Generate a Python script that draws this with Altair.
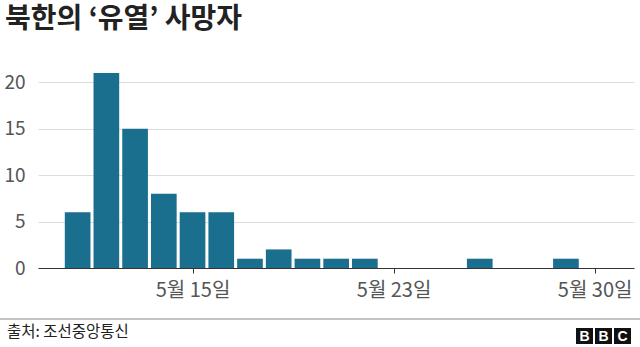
import altair as alt
import pandas as pd

# ---- data ----
days = [12, 13, 14, 15, 16, 17, 18, 19, 20, 21, 22, 26, 29]
deaths = [6, 21, 15, 8, 6, 6, 1, 2, 1, 1, 1, 1, 1]
tick_days = [16, 23, 30]
tick_labels = ["5월 15일", "5월 23일", "5월 30일"]
y_ticks = [0, 5, 10, 15, 20]

title_text = "북한의 ‘유열’ 사망자"
source_text = "출처: 조선중앙통신"

FONT = "Noto Sans CJK KR"
BAR = "#1a6e8e"

df = pd.DataFrame({"day": days, "deaths": deaths})

label_map = "{" + ",".join(f"'{d}':'{l}'" for d, l in zip(tick_days, tick_labels)) + "}"

W, H = 596, 195

bars = (
    alt.Chart(df)
    .transform_calculate(x0="datum.day - 0.447", x1="datum.day + 0.447")
    .mark_rect(color=BAR)
    .encode(
        x=alt.X(
            "x0:Q",
            scale=alt.Scale(domain=[10.62, 31.37], nice=False, zero=False),
            axis=alt.Axis(
                values=tick_days,
                labelExpr=f"{label_map}[toString(datum.value)]",
                title=None,
                grid=False,
                domain=True,
                domainColor="#333333",
                domainWidth=1,
                ticks=True,
                tickSize=5,
                tickColor="#333333",
                labelFont=FONT,
                labelFontSize=20,
                labelColor="#555555",
                labelPadding=7,
                labelFlush=False,
            ),
        ),
        x2="x1:Q",
        y=alt.Y(
            "deaths:Q",
            scale=alt.Scale(domain=[0, 21], nice=False),
            axis=alt.Axis(
                values=y_ticks,
                title=None,
                grid=True,
                gridColor="#dddddd",
                gridWidth=1,
                domain=False,
                ticks=False,
                labelFont=FONT,
                labelFontSize=19,
                labelColor="#555555",
                labelPadding=13,
            ),
        ),
        y2=alt.datum(0),
    )
)

one = pd.DataFrame({"k": [0]})

footer_line = (
    alt.Chart(one)
    .mark_rule(color="#888888", strokeWidth=1)
    .encode(x=alt.value(-38), x2=alt.value(602), y=alt.value(319 - 73))
)

source = (
    alt.Chart(one)
    .mark_text(text=source_text, font=FONT, fontSize=15.5, color="#222222",
               align="left", baseline="middle")
    .encode(x=alt.value(7 - 38), y=alt.value(332 - 73))
)

logo_layers = []
for i, letter in enumerate(["B", "B", "C"]):
    x0 = 576 - 38 + i * 19
    box = (
        alt.Chart(one)
        .mark_rect(color="#111111")
        .encode(x=alt.value(x0), x2=alt.value(x0 + 17),
                y=alt.value(328 - 73), y2=alt.value(344 - 73))
    )
    txt = (
        alt.Chart(one)
        .mark_text(text=letter, font="Liberation Sans", fontSize=14,
                   fontWeight="bold", color="#ffffff", align="center",
                   baseline="middle")
        .encode(x=alt.value(x0 + 8.5), y=alt.value(336.5 - 73))
    )
    logo_layers += [box, txt]

chart = (
    alt.layer(bars, footer_line, source, *logo_layers)
    .properties(
        width=W,
        height=H,
        autosize=alt.AutoSizeParams(type="none"),
        padding={"left": 38, "top": 73, "right": 6, "bottom": 79},
        background="white",
        title=alt.TitleParams(
            text=title_text,
            anchor="start",
            frame="group",
            orient="top",
            dx=-33,
            offset=17,
            baseline="alphabetic",
            font=FONT,
            fontSize=28,
            fontWeight="bold",
            color="#222222",
        ),
    )
    .configure_view(stroke=None)
)

chart.save("out.html", embed_options={"renderer": "svg", "actions": False})
